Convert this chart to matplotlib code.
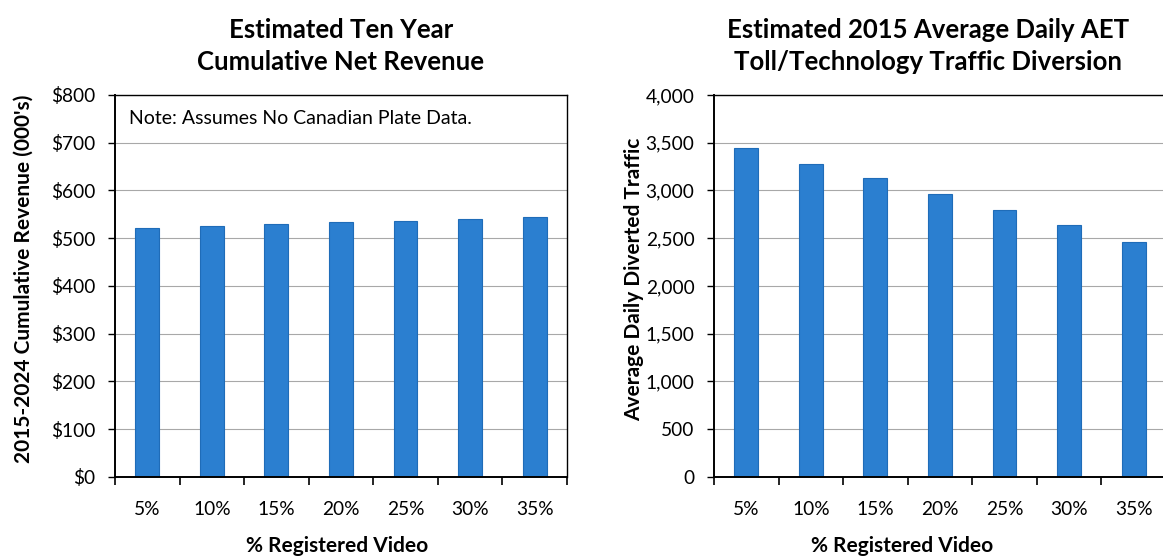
import numpy as np
import matplotlib.pyplot as plt
from matplotlib.ticker import FuncFormatter, FixedLocator

plt.rcParams['font.family'] = ['Lato', 'DejaVu Sans']

categories = ["5%", "10%", "15%", "20%", "25%", "30%", "35%"]
revenue = [521, 525, 529, 533, 537, 541, 545]          # $000's, 2015-2024 cumulative
diverted = [3440, 3280, 3130, 2965, 2800, 2635, 2465]  # average daily diverted vehicles

bar_color = "#2b7fd0"
edge_color = "#1f6cb8"
grid_color = "#a8a8a8"


def style_axes(ax, ymax, step, fmt):
    x = np.arange(len(categories))
    ax.set_xlim(-0.5, len(categories) - 0.5)
    ax.set_ylim(0, ymax)
    ax.set_yticks(np.arange(0, ymax + 1, step))
    ax.yaxis.set_major_formatter(FuncFormatter(fmt))
    ax.set_xticks(x)
    ax.set_xticklabels(categories)
    ax.xaxis.set_minor_locator(FixedLocator(np.arange(-0.5, len(categories), 1.0)))
    ax.tick_params(axis="x", which="major", length=0, pad=17, labelsize=13.8)
    ax.tick_params(axis="x", which="minor", length=6, width=1.2, direction="out")
    ax.tick_params(axis="y", length=5, width=1.0, direction="out", labelsize=13.8, pad=9)
    ax.grid(axis="y", color=grid_color, linewidth=0.8)
    ax.set_axisbelow(True)
    for side in ("left", "bottom"):
        ax.spines[side].set_linewidth(1.4)
    for side in ("top", "right"):
        ax.spines[side].set_linewidth(1.0)


fig = plt.figure(figsize=(11.63, 5.58), dpi=100)

# left: cumulative net revenue
ax1 = fig.add_axes([0.0989, 0.1452, 0.3886, 0.6846])
ax1.bar(np.arange(len(categories)), revenue, width=0.37, color=bar_color,
        edgecolor=edge_color, linewidth=0.8)
style_axes(ax1, 800, 100, lambda v, p: f"${v:,.0f}")
ax1.text(0.03, 0.96, "Note: Assumes No Canadian Plate Data.", transform=ax1.transAxes,
         ha="left", va="top", fontsize=14)
fig.text(0.020, 0.5, "2015-2024 Cumulative Revenue (000's)", rotation=90,
         ha="center", va="center", fontsize=15, fontweight="bold")
fig.text(0.293, 0.968, "Estimated Ten Year\nCumulative Net Revenue", ha="center",
         va="top", fontsize=18.5, fontweight="bold", linespacing=1.42)
fig.text(0.29, 0.003, "% Registered Video", ha="center", va="bottom",
         fontsize=15, fontweight="bold")

# right: diverted traffic, axes runs past the figure edge
ax2 = fig.add_axes([0.6139, 0.1452, 0.3886, 0.6846])
ax2.bar(np.arange(len(categories)), diverted, width=0.37, color=bar_color,
        edgecolor=edge_color, linewidth=0.8)
style_axes(ax2, 4000, 500, lambda v, p: f"{v:,.0f}")
fig.text(0.545, 0.5, "Average Daily Diverted Traffic", rotation=90,
         ha="center", va="center", fontsize=15, fontweight="bold")
fig.text(0.798, 0.968, "Estimated 2015 Average Daily AET\nToll/Technology Traffic Diversion",
         ha="center", va="top", fontsize=18.5, fontweight="bold", linespacing=1.42)
fig.text(0.776, 0.003, "% Registered Video", ha="center", va="bottom",
         fontsize=15, fontweight="bold")

fig.savefig("out.png", dpi=100)
